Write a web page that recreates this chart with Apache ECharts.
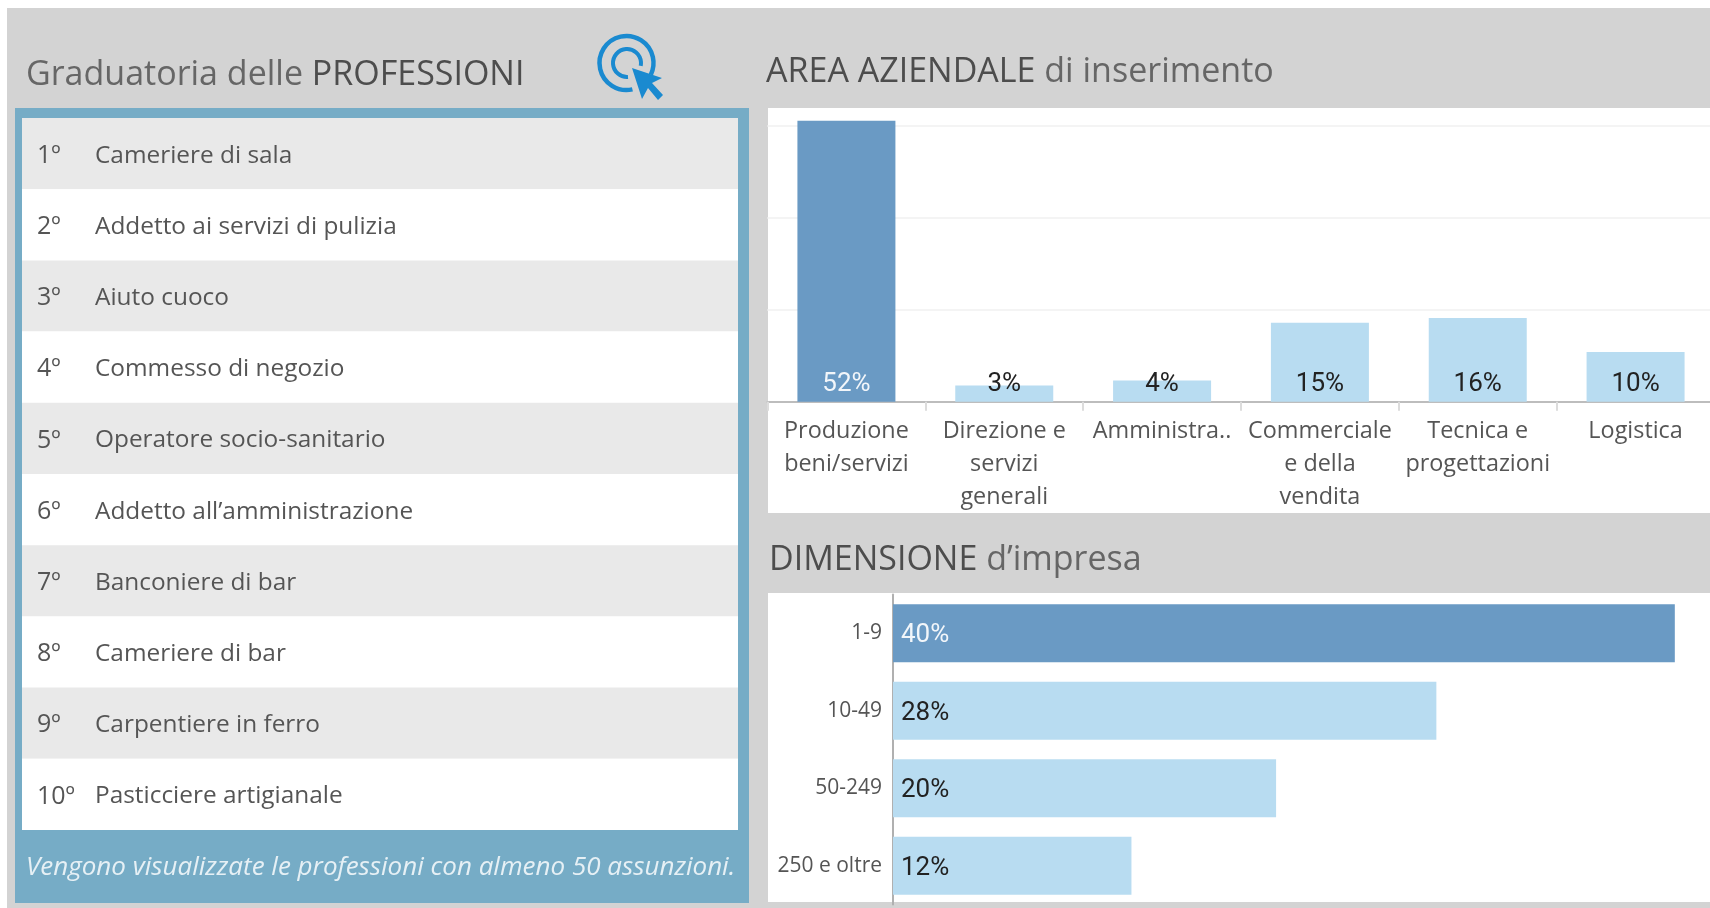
<!DOCTYPE html>
<html><head><meta charset="utf-8">
<style>html,body{margin:0;padding:0;background:#fff;overflow:hidden;width:1710px;height:908px}#c{width:1730px;height:908px;filter:blur(0.5px)}</style>
<script src="https://cdn.jsdelivr.net/npm/echarts@6/dist/echarts.min.js"></script>
</head><body><div id="c"></div>
<script>
const ranks = ['1º','2º','3º','4º','5º','6º','7º','8º','9º','10º'];
const professions = ['Cameriere di sala','Addetto ai servizi di pulizia','Aiuto cuoco','Commesso di negozio','Operatore socio-sanitario','Addetto all’amministrazione','Banconiere di bar','Cameriere di bar','Carpentiere in ferro','Pasticciere artigianale'];
const areaCategories = ['Produzione\nbeni/servizi','Direzione e\nservizi\ngenerali','Amministra..','Commerciale\ne della\nvendita','Tecnica e\nprogettazioni','Logistica'];
const areaValues = [52,3,3.9,14.6,15.5,9.2];
const areaLabels = ['52%','3%','4%','15%','16%','10%'];
const sizeCategories = ['1-9','10-49','50-249','250 e oltre'];
const sizeValues = [40,27.8,19.6,12.2];
const sizeLabels = ['40%','28%','20%','12%'];

const DARK='#6a9ac4', LIGHT='#b8dcf1', FONT='Open Sans', NUM='Roboto', TXT='#555';
const chart = echarts.init(document.getElementById('c'));
const rect=(x,y,w,h,fill)=>({type:'rect',z:-10,silent:true,shape:{x,y,width:w,height:h},style:{fill}});
const heading=(left,top,strong,rest,strongFirst)=>({left,top,padding:0,
  text:strongFirst?`{s|${strong}}{r|${rest}}`:`{r|${rest}}{s|${strong}}`,
  textStyle:{fontWeight:'normal',rich:{s:{fontFamily:FONT,fontSize:34,fontWeight:500,color:'#4d4d4d'},r:{fontFamily:FONT,fontSize:34,fontWeight:'normal',color:'#666'}}}});
const barSeries=(x,y,vals,labels,pos,dist,name,extra)=>({type:'bar',name,xAxisIndex:x,yAxisIndex:y,barWidth:pos==='insideLeft'?58:98,
  data:vals.map((v,i)=>({value:v,itemStyle:{color:i===0?DARK:LIGHT},
    label:Object.assign({show:true,position:pos,distance:dist,formatter:labels[i],fontFamily:NUM,fontSize:26,color:i===0?'#f2f6fa':'#222'},extra)})),
  silent:true,animation:false});

chart.setOption({
  animation:false,
  title:[
    heading(26,58.5,'PROFESSIONI','Graduatoria delle ',false),
    heading(766,55.5,'AREA AZIENDALE',' di inserimento',true),
    heading(769,543.5,'DIMENSIONE',' d’impresa',true)
  ],
  graphic:{elements:[
    rect(7,8,1723,900,'#d3d3d3'),
    rect(15,108,734,795,'#76acc6'),
    rect(22,118,716,712,'#ffffff'),
    rect(768,108,962,405,'#ffffff'),
    rect(768,593,962,309,'#ffffff'),
    {type:'arc',silent:true,shape:{cx:626.5,cy:63,r:27,startAngle:1.35,endAngle:0.45+Math.PI*2},style:{fill:'none',stroke:'#1a8ad0',lineWidth:4.5}},
    {type:'arc',silent:true,shape:{cx:627,cy:63,r:14,startAngle:1.5,endAngle:0.2+Math.PI*2},style:{fill:'none',stroke:'#1a8ad0',lineWidth:4}},
    {type:'polygon',silent:true,shape:{points:[[632,68],[642,99],[648,88],[658,100],[663,95],[652,83],[662,78]]},style:{fill:'#1a8ad0'}},
    {type:'text',silent:true,left:26,top:854.5,style:{text:'Vengono visualizzate le professioni con almeno 50 assunzioni.',fontFamily:FONT,fontStyle:'italic',fontSize:26,fill:'#e6f0f5'}}
  ]},
  grid:[
    {left:22,top:118,width:716,height:712},
    {left:767.5,top:108,width:947,height:293.7},
    {left:893,top:594.5,width:817,height:310}
  ],
  xAxis:[
    {gridIndex:0,type:'value',show:false,min:0,max:1},
    {gridIndex:1,type:'category',data:areaCategories,
      axisLine:{lineStyle:{color:'#bdbdbd',width:2}},
      axisTick:{show:true,length:9,alignWithLabel:false,lineStyle:{color:'#dcdcdc',width:2}},
      axisLabel:{interval:0,margin:13,lineHeight:33,fontFamily:FONT,fontSize:23.4,color:TXT,hideOverlap:false}},
    {gridIndex:2,type:'value',show:false,min:0,max:41.8,splitLine:{show:false}}
  ],
  yAxis:[
    {gridIndex:0,type:'category',inverse:true,data:professions,
      axisLine:{show:false},axisTick:{show:false},
      splitLine:{show:false},
      splitArea:{show:true,interval:0,areaStyle:{color:['#e9e9e9','#ffffff']}},
      axisLabel:{inside:true,interval:0,margin:15,padding:[4,0,0,0],
        formatter:(v,i)=>`{r|${ranks[i]}}{p|${v}}`,
        rich:{r:{width:58,fontFamily:FONT,fontSize:25,color:TXT},p:{fontFamily:FONT,fontSize:24.4,color:TXT}}}},
    {gridIndex:1,type:'value',min:0,max:54.35,interval:17,
      axisLine:{show:false},axisTick:{show:false},axisLabel:{show:false},
      splitLine:{show:true,showMaxLine:false,lineStyle:{color:'#f4f4f4',width:2}}},
    {gridIndex:2,type:'category',inverse:true,data:sizeCategories,
      axisLine:{show:true,lineStyle:{color:'#b0b0b0',width:2}},axisTick:{show:false},
      axisLabel:{interval:0,margin:11,padding:[10,0,0,0],fontFamily:FONT,fontSize:21,color:TXT}}
  ],
  series:[
    barSeries(1,1,areaValues,areaLabels,'insideBottom',4,'Area aziendale',{}),
    barSeries(2,2,sizeValues,sizeLabels,'insideLeft',8,'Dimensione d’impresa',{offset:[0,2.5]})
  ]
});
</script></body></html>
